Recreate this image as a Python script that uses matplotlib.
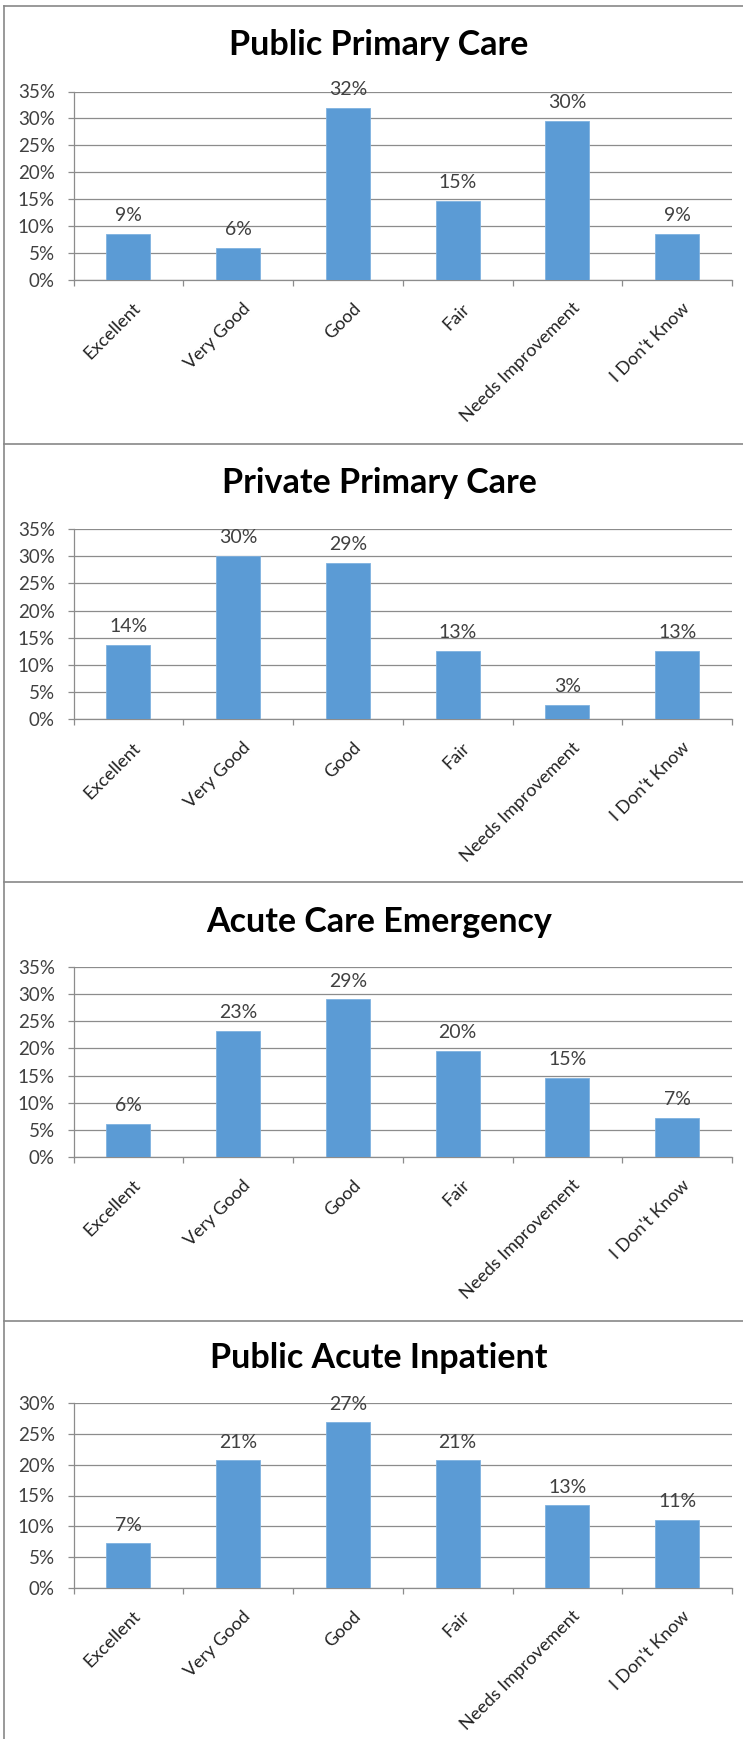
import matplotlib
matplotlib.use("Agg")
import matplotlib.pyplot as plt
from matplotlib.lines import Line2D
from matplotlib.transforms import ScaledTranslation

plt.rcParams['font.family'] = ['Lato', 'DejaVu Sans']

categories = ["Excellent", "Very Good", "Good", "Fair", "Needs Improvement", "I Don't Know"]

titles = ["Public Primary Care", "Private Primary Care", "Acute Care Emergency", "Public Acute Inpatient"]

public_primary = [8.6, 6.0, 32.0, 14.7, 29.6, 8.6]
private_primary = [13.7, 30.1, 28.8, 12.6, 2.6, 12.6]
acute_emergency = [6.1, 23.2, 29.1, 19.6, 14.6, 7.2]
public_inpatient = [7.2, 20.7, 26.9, 20.7, 13.4, 11.0]

series = [public_primary, private_primary, acute_emergency, public_inpatient]
ymaxes = [35, 35, 35, 30]

W, H = 743, 1739
fig = plt.figure(figsize=(W / 100, H / 100), dpi=100)

# layout in pixels (top of axes, bottom of axes, title baseline)
axes_px = [(91.5, 280.0, 55.0), (529.0, 719.3, 492.7), (967.3, 1156.7, 931.7), (1403.3, 1587.7, 1368.3)]
left_px, right_px = 73.5, 732.0

bar_color = "#5B9BD5"
grid_color = "#8C8C8C"
text_color = "#404040"

for vals, title, ymax, (top, bot, tb) in zip(series, titles, ymaxes, axes_px):
    ax = fig.add_axes([left_px / W, 1 - bot / H, (right_px - left_px) / W, (bot - top) / H])
    x = list(range(len(categories)))
    bars = ax.bar(x, vals, width=0.4, color=bar_color, edgecolor="#7FB2E0", linewidth=0.6, zorder=3)
    ax.bar_label(bars, labels=[f"{v:.0f}%" for v in vals], padding=7,
                 fontsize=14, color=text_color)
    ax.set_xlim(-0.5, len(categories) - 0.5)
    ax.set_ylim(0, ymax)
    ax.set_yticks(range(0, ymax + 1, 5))
    ax.set_yticklabels([f"{t}%" for t in range(0, ymax + 1, 5)])
    ax.yaxis.grid(True, color=grid_color, linewidth=0.9, zorder=0)
    ax.set_axisbelow(True)
    for s in ["top", "right"]:
        ax.spines[s].set_visible(False)
    for s in ["left", "bottom"]:
        ax.spines[s].set_color(grid_color)
        ax.spines[s].set_linewidth(0.9)
    ax.tick_params(axis="y", length=4.5, width=0.9, color=grid_color, pad=9,
                   labelsize=13.5, labelcolor=text_color)
    # boundaries as major ticks, category names as minor ticks
    ax.set_xticks([i - 0.5 for i in range(len(categories) + 1)])
    ax.set_xticklabels([])
    ax.set_xticks(x, minor=True)
    ax.set_xticklabels(categories, minor=True, rotation=45, ha="right",
                       va="center", rotation_mode="anchor")
    ax.tick_params(axis="x", which="major", length=4.5, width=0.9, color=grid_color)
    ax.tick_params(axis="x", which="minor", length=0, pad=18.5, labelsize=13,
                   labelcolor="#222222")
    off = ScaledTranslation(10 / 100, 0, fig.dpi_scale_trans)
    for lbl in ax.get_xticklabels(minor=True):
        lbl.set_transform(lbl.get_transform() + off)
    fig.text(379 / W, 1 - tb / H, title, ha="center", va="baseline",
             fontsize=24.5, fontweight="bold", color="black")

# panel borders
border_color = "#888888"
for yb in [6, 444, 882, 1321]:
    fig.add_artist(Line2D([4 / W, 1], [1 - yb / H, 1 - yb / H], color=border_color, lw=1.2))
fig.add_artist(Line2D([4 / W, 4 / W], [1 - 6 / H, 0], color=border_color, lw=1.2))

fig.savefig("out.png", dpi=100, facecolor="white")
